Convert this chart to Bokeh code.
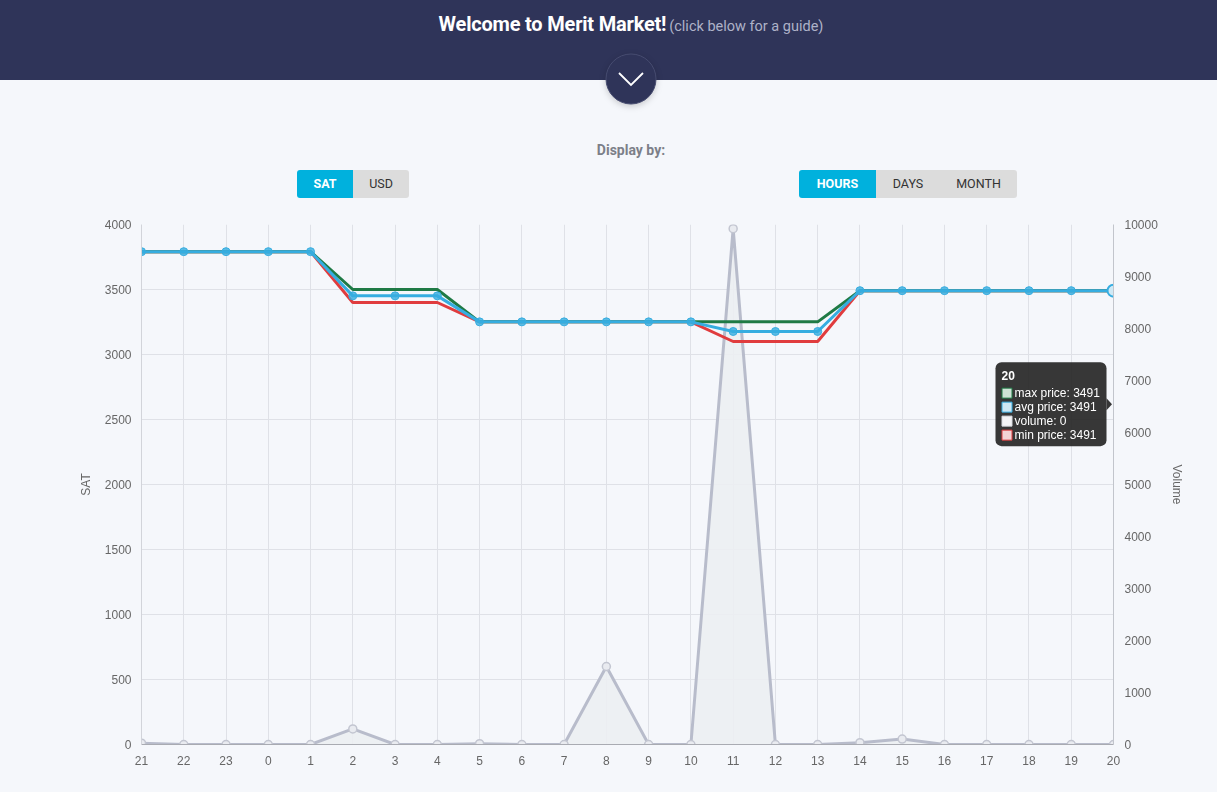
from bokeh.plotting import figure
from bokeh.models import Range1d, LinearAxis, FixedTicker, Div, BoxAnnotation
from bokeh.layouts import column
from bokeh.core.properties import value
from bokeh.embed import file_html
from bokeh.resources import INLINE

# ---------------- data ----------------
hours = [21, 22, 23, 0, 1, 2, 3, 4, 5, 6, 7, 8, 9, 10, 11, 12, 13, 14, 15, 16, 17, 18, 19, 20]
max_price = [3791, 3791, 3791, 3791, 3791, 3500, 3500, 3500, 3251, 3251, 3251, 3251,
             3251, 3251, 3251, 3251, 3251, 3491, 3491, 3491, 3491, 3491, 3491, 3491]
avg_price = [3791, 3791, 3791, 3791, 3791, 3451, 3451, 3451, 3251, 3251, 3251, 3251,
             3251, 3251, 3177, 3177, 3177, 3491, 3491, 3491, 3491, 3491, 3491, 3491]
min_price = [3791, 3791, 3791, 3791, 3791, 3400, 3400, 3400, 3251, 3251, 3251, 3251,
             3251, 3251, 3100, 3100, 3100, 3491, 3491, 3491, 3491, 3491, 3491, 3491]
volume = [25, 0, 0, 0, 0, 300, 0, 0, 15, 0, 0, 1500,
          0, 0, 9920, 0, 0, 35, 105, 0, 0, 0, 0, 0]
sat_ticks = [0, 500, 1000, 1500, 2000, 2500, 3000, 3500, 4000]
vol_ticks = [0, 1000, 2000, 3000, 4000, 5000, 6000, 7000, 8000, 9000, 10000]

# ---------------- styles ----------------
PAGE_BG = "#f5f7fb"
NAVY = "#2f3459"
GREEN = "#1f7a45"
RED = "#e03c3e"
BLUE = "#36ade0"
VOL_LINE = "#b8bccb"
GRID = "#dfe1e7"
TXT = "#666666"
FONT = "Liberation Sans"

PAGE_W = 1217
HEAD_H = 200
FIG_W, FIG_H = PAGE_W, 792 - HEAD_H
BL, BR, BT, BB = 141, 104, 24, 48
FRAME_W = FIG_W - BL - BR
FRAME_H = FIG_H - BT - BB

n = len(hours)
xs = list(range(n))
SAT_MAX = sat_ticks[-1]
VOL_MAX = vol_ticks[-1]

# ---------------- header (HTML) ----------------
def btn(left, width, label, active, radius):
    bg = "#00b1dd" if active else "#dcdcdc"
    col = "#ffffff" if active else "#333333"
    weight = "bold" if active else "normal"
    return (f'<div style="position:absolute;left:{left}px;top:170px;width:{width}px;height:28px;'
            f'line-height:28px;text-align:center;background:{bg};color:{col};font-weight:{weight};'
            f'font-size:12.5px;font-family:Roboto,sans-serif;border-radius:{radius};">{label}</div>')

header_html = f"""
<div style="position:fixed;left:0;top:0;width:{PAGE_W}px;height:792px;background:{PAGE_BG};z-index:-1;"></div>
<div style="position:relative;width:{PAGE_W}px;height:{HEAD_H}px;font-family:Roboto,sans-serif;background:{PAGE_BG};">
  <div style="position:absolute;left:0;top:0;width:{PAGE_W}px;height:80px;background:{NAVY};"></div>
  <div style="position:absolute;left:331px;top:12px;width:600px;line-height:24px;text-align:center;white-space:nowrap;">
    <span style="color:#ffffff;font-weight:bold;font-size:20px;letter-spacing:-0.2px;">Welcome to Merit Market!</span>
    <span style="color:#aeb2c8;font-size:14.5px;">(click below for a guide)</span>
  </div>
  <svg style="position:absolute;left:604px;top:52px;filter:drop-shadow(0 2px 3px rgba(0,0,0,0.18));" width="54" height="54">
    <circle cx="27" cy="27" r="25" fill="{NAVY}" stroke="#474c70" stroke-width="1"/>
    <polyline points="15,21 27,33 39,21" fill="none" stroke="#ffffff" stroke-width="1.8"/>
  </svg>
  <div style="position:absolute;left:331px;top:141px;width:600px;line-height:18px;text-align:center;
       color:#7c7f88;font-weight:bold;font-size:14px;">Display by:</div>
  {btn(297, 56, "SAT", True, "3px 0 0 3px")}
  {btn(353, 56, "USD", False, "0 3px 3px 0")}
  {btn(799, 77, "HOURS", True, "3px 0 0 3px")}
  {btn(876, 64, "DAYS", False, "0")}
  {btn(940, 77, "MONTH", False, "0 3px 3px 0")}
</div>
"""
header = Div(text=header_html, width=PAGE_W, height=HEAD_H, margin=0,
             styles={"background": PAGE_BG})

# ---------------- chart ----------------
p = figure(width=FIG_W, height=FIG_H, output_backend="svg", toolbar_location=None,
           x_range=Range1d(0, n - 1), y_range=Range1d(0, SAT_MAX),
           min_border_left=BL, min_border_right=BR, min_border_top=BT, min_border_bottom=BB,
           margin=0)
p.extra_y_ranges = {"vol": Range1d(0, VOL_MAX)}
p.background_fill_color = PAGE_BG
p.border_fill_color = PAGE_BG
p.outline_line_color = None

# axes
p.xaxis.ticker = FixedTicker(ticks=xs)
p.xaxis.major_label_overrides = {i: str(h) for i, h in enumerate(hours)}
p.yaxis.ticker = FixedTicker(ticks=sat_ticks)
p.yaxis.axis_label = "SAT"
ry = LinearAxis(y_range_name="vol", ticker=FixedTicker(ticks=vol_ticks), axis_label="Volume")
p.add_layout(ry, "right")

for ax in [p.xaxis[0], p.yaxis[0], ry]:
    ax.major_label_text_font = FONT
    ax.major_label_text_font_size = "12px"
    ax.major_label_text_color = TXT
    ax.axis_label_text_font = FONT
    ax.axis_label_text_font_size = "12px"
    ax.axis_label_text_font_style = "normal"
    ax.axis_label_text_color = TXT
    ax.major_tick_in = 0
    ax.major_tick_out = 0
    ax.minor_tick_line_color = None
    ax.axis_label_standoff = 9
p.xaxis.major_label_standoff = 11
p.xaxis.axis_line_color = "#a9abb2"
p.yaxis.major_label_standoff = 10
p.yaxis.axis_line_color = "#d2d4da"
ry.major_label_standoff = 11
ry.axis_line_color = "#c2c5cc"

p.xgrid.ticker = FixedTicker(ticks=xs)
p.ygrid.ticker = FixedTicker(ticks=sat_ticks)
p.xgrid.grid_line_color = GRID
p.ygrid.grid_line_color = GRID

# volume (area)
p.varea(x=xs, y1=[0] * n, y2=volume, y_range_name="vol", fill_color="#eceef2", fill_alpha=0.9)
p.line(xs, volume, y_range_name="vol", line_color=VOL_LINE, line_width=3)
p.scatter(xs, volume, y_range_name="vol", size=8, fill_color="#e9ebf0",
          line_color="#c3c6d1", line_width=1.5)

# price lines
p.line(xs, min_price, line_color=RED, line_width=3)
p.line(xs, max_price, line_color=GREEN, line_width=3)
p.line(xs, avg_price, line_color=BLUE, line_width=3)
p.scatter(xs, avg_price, size=8, fill_color=BLUE, fill_alpha=0.8, line_color=BLUE, line_width=1)
p.scatter([xs[-1]], [avg_price[-1]], size=12, fill_color="#cfe9f5", line_color=BLUE, line_width=2)

# ---------------- tooltip ----------------
XS_PX = FRAME_W / (n - 1)
YS_PX = FRAME_H / SAT_MAX
def dx(px):
    return px / XS_PX
def dy(px):
    return px / YS_PX

last = xs[-1]
anchor_y = (max_price[-1] + avg_price[-1] + volume[-1] * SAT_MAX / VOL_MAX + min_price[-1]) / 4
box_right = last - dx(7)
box_left = box_right - dx(111)
box_top = anchor_y + dy(42)
box_bottom = anchor_y - dy(42)

p.add_layout(BoxAnnotation(left=box_left, right=box_right, top=box_top, bottom=box_bottom,
                           fill_color="#262626", fill_alpha=0.92, line_color=None,
                           border_radius=6))
arr = p.patch([box_right, last - dx(1.5), box_right],
              [anchor_y + dy(6), anchor_y, anchor_y - dy(6)],
              fill_color="#262626", fill_alpha=0.92, line_color=None)
arr.level = "overlay"

t = p.text([box_left + dx(6)], [box_top - dy(13)], text=[str(hours[-1])],
           text_font=value(FONT), text_font_size="12px", text_font_style="bold",
           text_color="white", text_baseline="middle", text_align="left")
t.level = "overlay"

rows = [f"max price: {max_price[-1]}", f"avg price: {avg_price[-1]}",
        f"volume: {volume[-1]}", f"min price: {min_price[-1]}"]
sw_fill = ["#cfe2d6", "#cde7f3", "#f4f4f6", "#f3d3d4"]
sw_line = [GREEN, BLUE, "#d8dae0", RED]
row_y = [box_top - dy(31 + 14 * i) for i in range(len(rows))]

sw = p.rect([box_left + dx(11.5)] * len(rows), row_y, width=10, height=10,
            width_units="screen", height_units="screen",
            fill_color=sw_fill, line_color=sw_line, line_width=1)
sw.level = "overlay"
tr = p.text([box_left + dx(19)] * len(rows), row_y, text=rows,
            text_font=value(FONT), text_font_size="12px",
            text_color="white", text_baseline="middle", text_align="left")
tr.level = "overlay"

layout = column(header, p, spacing=0)
open("out.html", "w").write(file_html(layout, INLINE))
